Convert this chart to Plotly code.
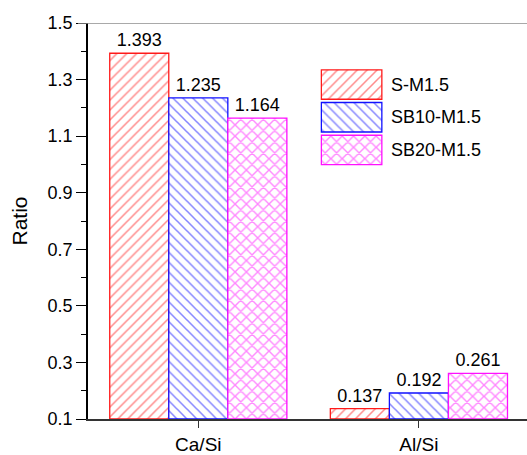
import plotly.graph_objects as go

# Data
categories = ["Ca/Si", "Al/Si"]
series_names = ["S-M1.5", "SB10-M1.5", "SB20-M1.5"]
s_m15 = [1.393, 0.137]
sb10_m15 = [1.235, 0.192]
sb20_m15 = [1.164, 0.261]
y_ticks = [0.1, 0.3, 0.5, 0.7, 0.9, 1.1, 1.3, 1.5]

FONT = "Liberation Sans, Arial, Helvetica, sans-serif"
colors = ["#ff1a1a", "#1010ff", "#ff10ff"]
shapes_pat = ["/", "\\", "x"]
values = [s_m15, sb10_m15, sb20_m15]


def pattern_marker(col, shp):
    return dict(
        color="white",
        line=dict(color=col, width=1.3),
        pattern=dict(shape=shp, fgcolor=col, bgcolor="white",
                     size=7 if shp != "x" else 8,
                     solidity=0.22 if shp != "x" else 0.32),
    )


fig = go.Figure()

for name, vals, col, shp in zip(series_names, values, colors, shapes_pat):
    fig.add_trace(go.Bar(
        x=categories, y=[v - 0.1 for v in vals], base=0.1,
        name=name,
        marker=pattern_marker(col, shp),
        text=[f"{v:.3f}" for v in vals],
        textposition="outside",
        textfont=dict(family=FONT, size=18, color="black"),
        cliponaxis=False,
        showlegend=False,
    ))

# Legend swatches drawn as bars on a small auxiliary subplot
for i, (name, col, shp) in enumerate(zip(series_names, colors, shapes_pat)):
    fig.add_trace(go.Bar(
        x=[1], y=[2 - i], base=0, orientation="h", width=0.9,
        xaxis="x2", yaxis="y2",
        marker=pattern_marker(col, shp),
        showlegend=False, hoverinfo="skip",
    ))
    fig.add_annotation(
        x=0.685, xref="paper", y=2 - i, yref="y2",
        text=name, showarrow=False, xanchor="left", yanchor="middle",
        font=dict(family=FONT, size=18, color="black"),
    )

fig.update_layout(
    width=527, height=455,
    margin=dict(l=88, r=0, t=23, b=33),
    paper_bgcolor="white", plot_bgcolor="white",
    barmode="group", bargap=0.197, bargroupgap=0,
    font=dict(family=FONT, size=18, color="black"),
    xaxis=dict(
        type="category", range=[-0.5, 1.49],
        showline=True, linecolor="#333333", linewidth=2,
        ticks="outside", ticklen=7, tickwidth=1.2, tickcolor="#333333",
        tickfont=dict(family=FONT, size=19, color="black"),
        showgrid=False, zeroline=False,
    ),
    yaxis=dict(
        range=[0.1, 1.5], tickvals=y_ticks,
        ticktext=[f"{t:.1f}" for t in y_ticks],
        showline=True, linecolor="black", linewidth=1.5,
        ticks="outside", ticklen=10, tickwidth=1.3, tickcolor="black",
        minor=dict(dtick=0.1, tick0=0.1, ticks="outside", ticklen=5,
                   tickwidth=1.3, tickcolor="black"),
        tickfont=dict(family=FONT, size=18, color="black"),
        title=dict(text="Ratio", font=dict(family=FONT, size=21, color="black"),
                   standoff=14),
        showgrid=False, zeroline=False,
    ),
    xaxis2=dict(domain=[0.5275, 0.6735], range=[-0.03, 1.03], anchor="y2",
                visible=False, fixedrange=True),
    yaxis2=dict(domain=[0.638, 0.886], range=[-0.5, 2.5], anchor="x2",
                visible=False, fixedrange=True),
    shapes=[dict(type="line", xref="paper", yref="y",
                 x0=-10 / 439, x1=1, y0=1.5, y1=1.5,
                 line=dict(color="#8c8c8c", width=1.5), layer="above")],
)

fig.write_html("out.html")
